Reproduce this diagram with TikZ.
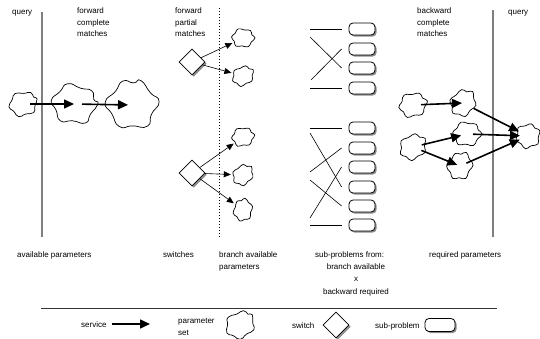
\documentclass[tikz,border=0pt]{standalone}
\usepackage{fontspec}
\setmainfont{Liberation Sans}
\usetikzlibrary{shapes.geometric,shadows,arrows.meta}
\tikzset{
    every node/.style={inner sep=0pt},
    lbl/.style={font=\fontsize{8}{11.5}\selectfont, anchor=base west, align=left},
    divider/.style={draw=black!50, line width=1.3pt},
    pnode/.style={ellipse, draw=none},
    blobline/.style={draw=black, line width=0.7pt},
    svc/.style={-{Triangle[length=10pt,width=9pt]}, line width=1.6pt},
    branch/.style={-{Triangle[length=7pt,width=6pt]}, line width=0.6pt},
    pair/.style={line width=0.6pt},
    switchnode/.style={diamond, draw, line width=0.7pt, fill=white,
        minimum width=26pt, minimum height=26pt,
        drop shadow={shadow xshift=1.8pt, shadow yshift=-1.8pt, fill=black!45, opacity=1}},
    subprob/.style={rectangle, rounded corners=4pt, draw, line width=0.8pt, fill=white,
        minimum width=26pt, minimum height=12pt,
        drop shadow={shadow xshift=1.6pt, shadow yshift=-1.6pt, fill=black!45, opacity=1}},
    pset/.pic={\draw[blobline] plot[smooth cycle, tension=1] coordinates {(0:1) (35:.84) (62:1.02) (95:.8) (125:.98) (160:.8) (190:.96) (225:.83) (255:1) (290:.8) (320:.97) (345:.85)};},
    pstar/.pic={\draw[blobline] plot[smooth cycle, tension=1] coordinates {(0:1) (32:.8) (64:.98) (96:.79) (126:1) (156:.8) (186:.96) (216:.8) (246:1) (278:.81) (310:.97) (336:.8)};}
}

\begin{document}
\begin{tikzpicture}[x=1pt, y=-1pt]
    \useasboundingbox (0,0) rectangle (540,339);
    % column headings
    \node [lbl] at (12,15) {query};
    \node [lbl] at (77,37) {forward\\complete\\matches};
    \node [lbl] at (175,37) {forward\\partial\\matches};
    \node [lbl] at (417,37) {backward\\complete\\matches};
    \node [lbl] at (508,15) {query};
    % dividers
    \draw [divider] (42,12) -- (42,237);
    \draw [divider] (493,10) -- (493,237);
    \draw [line width=0.7pt, dash pattern=on 1pt off 2pt] (219,8) -- (219,238);

    % forward complete matches
    \node (f0) [pnode, minimum width=30pt, minimum height=26pt] at (23,104) {};
    \node (f1) [pnode, minimum width=48pt, minimum height=42pt] at (74,104) {};
    \node (f2) [pnode, minimum width=52pt, minimum height=54pt] at (132,105) {};
    \pic [rotate=20, xscale=15, yscale=13] at (f0) {pset};
    \pic [xscale=24, yscale=21] at (f1) {pset};
    \pic [rotate=70, xscale=26, yscale=27] at (f2) {pset};
    \draw [svc, shorten <=7pt, shorten >=0pt] (f0.center) -- (f1.center);
    \draw [svc, shorten <=8pt, shorten >=4pt] (f1.center) -- (f2.center);

    % forward partial matches
    \node (d1) [switchnode] at (192,62) {};
    \node (d2) [switchnode] at (192,173) {};
    \node (p1) [pnode, minimum width=24pt, minimum height=20pt] at (243,38) {};
    \node (p2) [pnode, minimum width=24pt, minimum height=20pt] at (243,76) {};
    \node (p3) [pnode, minimum width=24pt, minimum height=20pt] at (243,137) {};
    \node (p4) [pnode, minimum width=24pt, minimum height=20pt] at (243,175) {};
    \node (p5) [pnode, minimum width=24pt, minimum height=20pt] at (243,210) {};
    \pic [xscale=12, yscale=10] at (p1) {pstar};
    \pic [rotate=30, xscale=12, yscale=10] at (p2) {pstar};
    \pic [rotate=10, xscale=12, yscale=10] at (p3) {pstar};
    \pic [rotate=45, xscale=12, yscale=10] at (p4) {pstar};
    \pic [rotate=80, xscale=12, yscale=10] at (p5) {pstar};
    \draw [branch] (d1) -- (p1);
    \draw [branch] (d1) -- (p2);
    \draw [branch] (d2) -- (p3);
    \draw [branch] (d2) -- (p4);
    \draw [branch] (d2) -- (p5);

    % sub-problems
    \node (sp1) [subprob] at (362,29) {};
    \node (sp2) [subprob] at (362,49) {};
    \node (sp3) [subprob] at (362,68) {};
    \node (sp4) [subprob] at (362,88) {};
    \node (sp5) [subprob] at (362,128) {};
    \node (sp6) [subprob] at (362,148) {};
    \node (sp7) [subprob] at (362,167) {};
    \node (sp8) [subprob] at (362,187) {};
    \node (sp9) [subprob] at (362,206) {};
    \node (sp10) [subprob] at (362,225) {};
    \coordinate (a1) at (310,29);
    \coordinate (a2) at (310,37);
    \coordinate (a3) at (311,80);
    \coordinate (a4) at (310,88);
    \coordinate (a5) at (310,128);
    \coordinate (a6) at (310,133);
    \coordinate (a7) at (310,172);
    \coordinate (a8) at (310,180);
    \coordinate (a9) at (310,218);
    \coordinate (a10) at (310,225);
    \draw [pair] (a1) -- ([xshift=-7pt]sp1.west);
    \draw [pair] (a2) -- ([xshift=-7pt]sp3.west);
    \draw [pair] (a3) -- ([xshift=-7pt]sp2.west);
    \draw [pair] (a4) -- ([xshift=-7pt]sp4.west);
    \draw [pair] (a5) -- ([xshift=-7pt]sp5.west);
    \draw [pair] (a6) -- ([xshift=-7pt]sp8.west);
    \draw [pair] (a7) -- ([xshift=-7pt]sp6.west);
    \draw [pair] (a8) -- ([xshift=-7pt]sp9.west);
    \draw [pair] (a9) -- ([xshift=-7pt]sp7.west);
    \draw [pair] (a10) -- ([xshift=-7pt]sp10.west);

    % backward complete matches
    \node (ba) [pnode, minimum width=30pt, minimum height=26pt] at (413,105) {};
    \node (bb) [pnode, minimum width=30pt, minimum height=26pt] at (463,103) {};
    \node (bc) [pnode, minimum width=30pt, minimum height=26pt] at (467,134) {};
    \node (bd) [pnode, minimum width=30pt, minimum height=26pt] at (413,147) {};
    \node (be) [pnode, minimum width=30pt, minimum height=26pt] at (460,166) {};
    \node (bt) [pnode, minimum width=26pt, minimum height=26pt] at (528,136) {};
    \pic [rotate=15, xscale=15, yscale=13] at (ba) {pstar};
    \pic [rotate=50, xscale=15, yscale=13] at (bb) {pstar};
    \pic [rotate=0, xscale=15, yscale=13] at (bc) {pstar};
    \pic [rotate=35, xscale=15, yscale=13] at (bd) {pstar};
    \pic [rotate=65, xscale=15, yscale=13] at (be) {pstar};
    \pic [rotate=25, xscale=13, yscale=13] at (bt) {pstar};
    \draw [svc, shorten <=8pt, shorten >=1pt] (ba.center) -- (bb.center);
    \draw [svc, shorten <=12pt, shorten >=10pt] (bb.center) -- (bt.center);
    \draw [svc, shorten <=6pt, shorten >=8pt] (bc.center) -- (bt.center);
    \draw [svc, shorten <=9pt, shorten >=6pt] (bd.center) -- (bc.center);
    \draw [svc, shorten <=9pt, shorten >=3pt] (bd.center) -- (be.center);
    \draw [svc, shorten <=7pt, shorten >=9pt] (be.center) -- (bt.center);

    % column footers
    \node [lbl] at (17,257) {available parameters};
    \node [lbl] at (163,257) {switches};
    \node [lbl] at (219,269) {branch available\\parameters};
    \node [lbl] at (315,257) {sub-problems from:};
    \node [lbl, anchor=base, align=center, font=\fontsize{8}{12.5}\selectfont] at (356,294) {branch available\\x\\backward required};
    \node [lbl] at (429,257) {required parameters};

    % legend
    \draw [line width=0.8pt, draw=black!80] (41,308) -- (497,308);
    \node [lbl] at (81,327) {service};
    \coordinate (lg1) at (112,324);
    \coordinate (lg2) at (150,324);
    \draw [svc] (lg1) -- (lg2);
    \node [lbl] at (178,335) {parameter\\set};
    \node (lgset) [pnode, minimum width=32pt, minimum height=28pt] at (240,325) {};
    \pic [rotate=40, xscale=16, yscale=14] at (lgset) {pset};
    \node [lbl] at (292,328) {switch};
    \node (lgsw) [switchnode] at (336,325) {};
    \node [lbl] at (375,328) {sub-problem};
    \node (lgsp) [subprob, minimum width=30pt, minimum height=13pt] at (440,325) {};
\end{tikzpicture}
\end{document}
